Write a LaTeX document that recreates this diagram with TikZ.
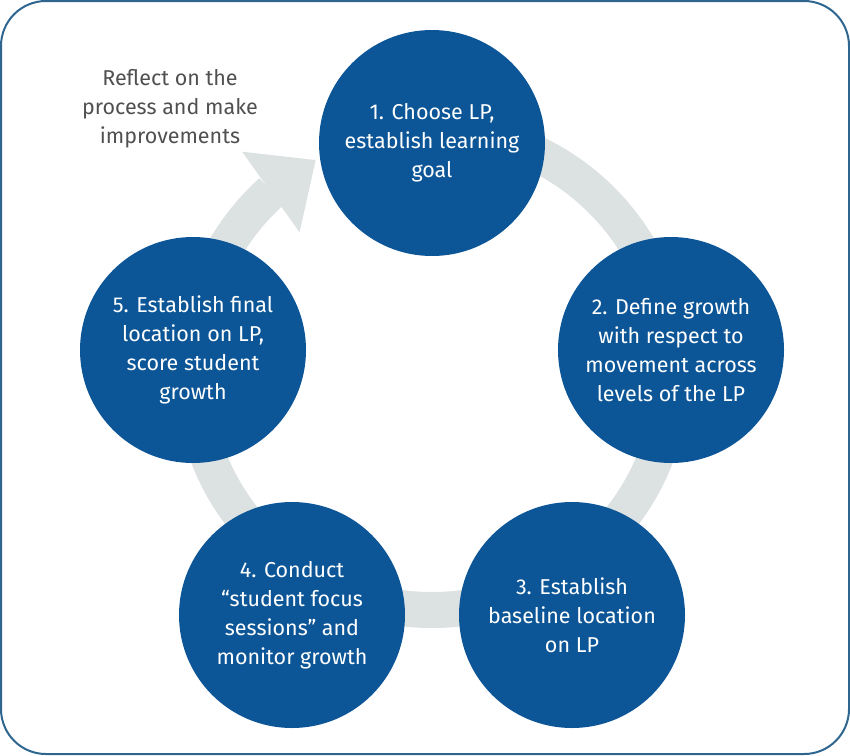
\documentclass[tikz,border=0pt]{standalone}
\usepackage{fontspec}
\setmainfont{Fira Sans}
\usetikzlibrary{positioning}
\usetikzlibrary{arrows.meta}
\usetikzlibrary{bending}
\definecolor{lpblue}{HTML}{0C5697}
\definecolor{ringgrey}{HTML}{DCE1E2}
\definecolor{framecol}{HTML}{2E6690}
\definecolor{notegrey}{HTML}{505050}

\begin{document}
\begin{tikzpicture}[x=1pt,y=-1pt,font=\fontsize{21.5}{29}\selectfont]
		\tikzstyle{stage}=[circle,fill=lpblue,text=white,minimum size=226pt,inner sep=0pt,align=center]
		
		\useasboundingbox (0,0) rectangle (850,755);
		\draw[framecol,line width=2pt,rounded corners=45pt] (1,1) rectangle (849,754);
		
		\coordinate (hub) at (432,370);
		\draw[ringgrey,line width=36pt,-{Triangle[width=99pt,length=55pt,line width=0pt,flex]}]
		([shift={(-90:240)}]hub) arc[start angle=-90,end angle=241,radius=240];
		
		\node[stage]         (choose)   at (432,143)  {1. Choose LP,\\establish learning\\goal};
		\node[stage]         (define)   at (671,350)  {2. Define growth\\with respect to\\movement across\\levels of the LP};
		\node[stage]         (baseline) at (572,615)  {3. Establish\\baseline location\\on LP};
		\node[stage]         (conduct)  at (292,615)  {4. Conduct\\“student focus\\sessions” and\\monitor growth};
		\node[stage]         (final)    at (193,350)  {5. Establish final\\location on LP,\\score student\\growth};
		\node[text=notegrey,align=center] (reflect) at (170,109) {Reflect on the\\process and make\\improvements};
		
\end{tikzpicture}
\end{document}
